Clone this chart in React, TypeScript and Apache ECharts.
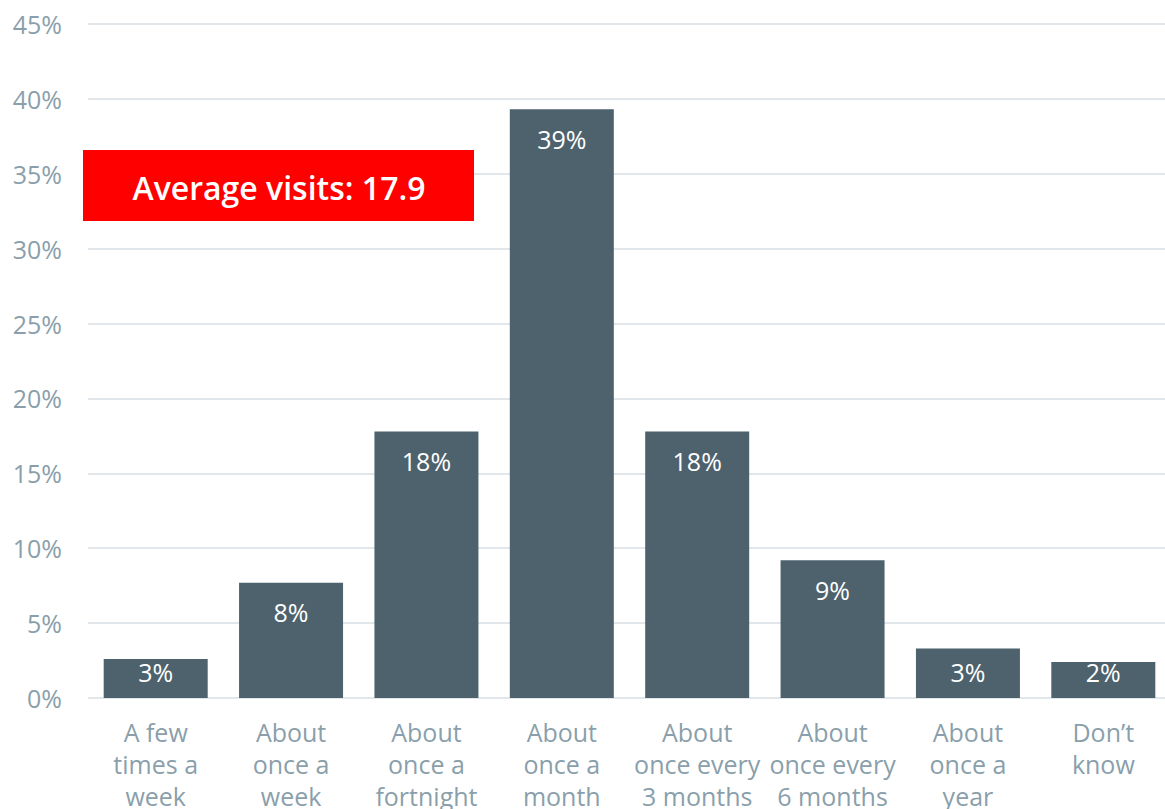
import React, { useEffect, useRef } from "react";
import * as echarts from "echarts";

const categories = [
  "A few\ntimes a\nweek",
  "About\nonce a\nweek",
  "About\nonce a\nfortnight",
  "About\nonce a\nmonth",
  "About\nonce every\n3 months",
  "About\nonce every\n6 months",
  "About\nonce a\nyear",
  "Don’t\nknow",
];
const values = [2.6, 7.7, 17.8, 39.3, 17.8, 9.2, 3.3, 2.4];
const yTicks = { min: 0, max: 45, interval: 5 };
const averageText = "Average visits: 17.9";

const FONT = "'Open Sans', 'Noto Sans', sans-serif";
const AXIS_COLOR = "#8a9fab";

export default function App() {
  const ref = useRef<HTMLDivElement>(null);
  useEffect(() => {
    if (!ref.current) return;
    const chart = echarts.init(ref.current, undefined, { renderer: "svg" });
    chart.setOption({
      animation: false,
      textStyle: { fontFamily: FONT },
      grid: {
        left: 88,
        right: -6,
        top: 24,
        bottom: 111,
        containLabel: false,
        outerBoundsMode: "none",
      },
      xAxis: {
        type: "category",
        data: categories,
        axisLine: { show: false },
        axisTick: { show: false },
        axisLabel: {
          color: AXIS_COLOR,
          fontSize: 25,
          lineHeight: 32,
          margin: 18,
          interval: 0,
          fontFamily: FONT,
        },
      },
      yAxis: {
        type: "value",
        min: yTicks.min,
        max: yTicks.max,
        interval: yTicks.interval,
        axisLine: { show: false },
        axisTick: { show: false },
        splitLine: { lineStyle: { color: "#e1e6ea", width: 2 } },
        axisLabel: {
          color: AXIS_COLOR,
          fontSize: 25,
          margin: 26,
          fontFamily: FONT,
          formatter: (v: number) => `${v}%`,
        },
      },
      series: [
        {
          type: "bar",
          barWidth: 104,
          data: values.map((v) => ({
            value: v,
            label:
              v < 5
                ? { position: "insideBottom", distance: 14 }
                : { position: "insideTop", distance: 17 },
          })),
          itemStyle: { color: "#4d626d" },
          label: {
            show: true,
            color: "#ffffff",
            fontSize: 25,
            fontFamily: FONT,
            formatter: (p: any) => `${Math.round(p.value)}%`,
          },
        },
      ],
      graphic: [
        {
          type: "rect",
          left: 83,
          top: 150,
          z: 100,
          shape: { width: 391, height: 71 },
          style: { fill: "#ff0000" },
        },
        {
          type: "text",
          x: 279,
          y: 187,
          z: 101,
          style: {
            text: averageText,
            fill: "#ffffff",
            font: `600 32px ${FONT}`,
            align: "center",
            verticalAlign: "middle",
          },
        },
      ],
    });
    return () => chart.dispose();
  }, []);
  return (
    <div
      ref={ref}
      style={{ position: "absolute", left: 0, top: 0, width: 1165, height: 809 }}
    />
  );
}
